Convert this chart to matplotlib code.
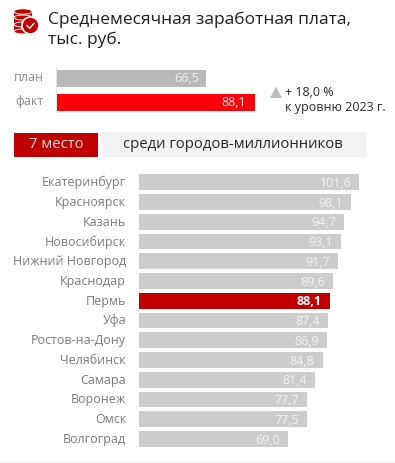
import matplotlib
matplotlib.use("Agg")
import matplotlib.pyplot as plt
from matplotlib.patches import Rectangle, Ellipse, Circle, Polygon

plt.rcParams['font.family'] = ['Open Sans', 'DejaVu Sans']

plan_labels = ["план", "факт"]
plan_values = [66.5, 88.1]
plan_texts = ["66,5", "88,1"]
plan_colors = ["#b9b9b9", "#fa0008"]

cities = ["Екатеринбург", "Красноярск", "Казань", "Новосибирск", "Нижний Новгород",
          "Краснодар", "Пермь", "Уфа", "Ростов-на-Дону", "Челябинск", "Самара",
          "Воронеж", "Омск", "Волгоград"]
city_values = [101.6, 98.1, 94.7, 93.1, 91.7, 89.6, 88.1, 87.4, 86.9, 84.8, 81.4, 77.7, 77.5, 69.0]
city_texts = ["101,6", "98,1", "94,7", "93,1", "91,7", "89,6", "88,1", "87,4", "86,9", "84,8",
              "81,4", "77,7", "77,5", "69,0"]
highlight = "Пермь"

W, H = 395, 463
fig = plt.figure(figsize=(W / 100, H / 100), dpi=100, facecolor="white")

# pixel overlay
bg = fig.add_axes([0, 0, 1, 1])
bg.set_xlim(0, W)
bg.set_ylim(H, 0)
bg.axis("off")

RED = "#c00000"
# icon
for yc in (28, 21, 14):
    bg.add_patch(Rectangle((14, yc - 3.5), 18, 7, fc=RED, ec="none"))
    bg.add_patch(Ellipse((23, yc + 3.5), 18, 5, fc=RED, ec="white", lw=0.7))
bg.add_patch(Ellipse((23, 11.5), 18, 5.5, fc=RED, ec="white", lw=0.7, zorder=3))
bg.add_patch(Circle((30.5, 25.5), 8.5, fc=RED, ec="white", lw=1.2, zorder=4))
bg.plot([26.8, 29.6, 34.2], [25.5, 28.3, 23.2], color="white", lw=1, zorder=5)

# title
bg.text(47.5, 19.5, "Среднемесячная заработная плата,", fontsize=12.55, color="#1e1e1e", va="center", ha="left")
bg.text(47.5, 39.5, "тыс. руб.", fontsize=12.55, color="#1e1e1e", va="center", ha="left")

# plan/fact bars
ax1 = fig.add_axes([56.7 / W, 1 - 118 / H, (255 - 56.7) / W, 55 / H])
ax1.set_xlim(0, 88.1)
ax1.set_ylim(118, 63)
ax1.axis("off")
for i, (lab, v, t, c) in enumerate(zip(plan_labels, plan_values, plan_texts, plan_colors)):
    y = 78.3 + 24 * i
    ax1.barh(y, v, height=16.7, color=c)
    ax1.text(v - (3.9 if i else 3.3), y + 0.3, t, color="#f0f0f0", fontsize=9, ha="right", va="center")
    bg.text(43.5, y - 0.5, lab, color="#8a8a8a", fontsize=9, ha="right", va="center")
bg.plot([56.3, 56.3], [68, 113], color="#e6e6e6", lw=0.8)

# delta note
bg.add_patch(Polygon([[270, 98], [282, 98], [276, 86.5]], fc="#bdbdbd", ec="none"))
bg.text(285, 92, "+ 18,0 %", fontsize=9, color="#2a2a2a", va="center", ha="left")
bg.text(285, 107, "к уровню 2023 г.", fontsize=9, color="#2a2a2a", va="center", ha="left")

# rank banner
bg.add_patch(Rectangle((14, 133), 84, 24, fc=RED, ec="none"))
bg.text(56, 145, "7 место", fontsize=10.7, color="#f4dcdc", va="center", ha="center")
bg.add_patch(Rectangle((102, 132), 265, 25, fc="#f3f3f5", ec="none"))
bg.text(233, 145, "среди городов-миллионников", fontsize=10.7, color="#262626", va="center", ha="center")

# ranking bars
ax2 = fig.add_axes([139 / W, 0, 220 / W, 1])
ax2.set_xlim(0, 101.6)
ax2.set_ylim(H, 0)
ax2.axis("off")
for i, (city, v, t) in enumerate(zip(cities, city_values, city_texts)):
    y = 182.2 + 19.75 * i
    hi = city == highlight
    ax2.barh(y, v, height=15.8, color=RED if hi else "#cccccc")
    ax2.text(v - (3.3 if i == 0 else 3.7), y + 1.2, t,
             color="white" if hi else "#f2f2f2", fontsize=9,
             fontweight="bold" if hi else "normal", ha="right", va="center")
    bg.text(126, y + 0.4, city, color="#7a7a7a", fontsize=9, ha="right", va="center")

bg.plot([0, W], [462.3, 462.3], color="#f0f0f0", lw=1)

fig.savefig("out.png", dpi=100, facecolor="white")
